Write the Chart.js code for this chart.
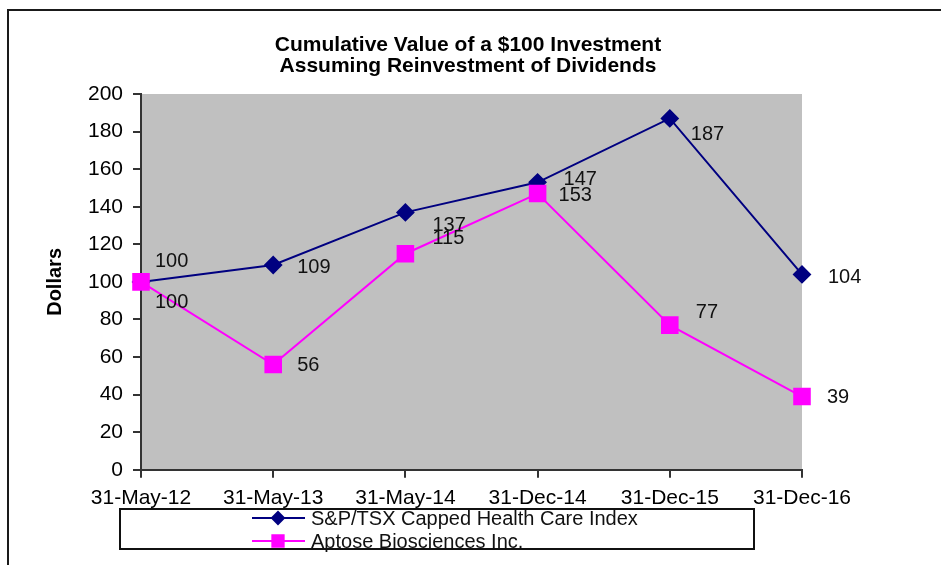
<!DOCTYPE html>
<html>
<head>
<meta charset="utf-8">
<script src="https://cdn.jsdelivr.net/npm/chart.js@4"></script>
<style>
    body { margin: 0; background: #fff; }
    #wrap { width: 941px; height: 565px; }
</style>
</head>
<body>
<div id="wrap"><canvas id="myLineChart"></canvas></div>
<script>
const dates = ['31-May-12', '31-May-13', '31-May-14', '31-Dec-14', '31-Dec-15', '31-Dec-16'];
const indexValues = [100, 109, 137, 153, 187, 104];
const aptoseValues = [100, 56, 115, 147, 77, 39];
// the printed labels, as they stand on the original (the Dec-14 pair is swapped there)
const indexLabels = ['100', '109', '137', '147', '187', '104'];
const aptoseLabels = ['100', '56', '115', '153', '77', '39'];
const yTicks = [0, 20, 40, 60, 80, 100, 120, 140, 160, 180, 200];
const titleLines = ['Cumulative Value of a $100 Investment', 'Assuming Reinvestment of Dividends'];

// where each value label sits relative to its point
const indexLabelOffsets = [[14, -20], [24, 2], [27, 13], [26, -3], [21, 16], [26, 3]];
const aptoseLabelOffsets = [[14, 21], [24, 1], [27, -15], [21, 2], [26, -13], [25, 1]];

const FONT = 'Liberation Sans, Arial, sans-serif';

const backgroundPlugin = {
    id: 'plot_background',
    beforeDraw: (chart) => {
        const ctx = chart.ctx;
        const {top, left, width, height} = chart.chartArea;
        ctx.save();
        ctx.fillStyle = '#fff';
        ctx.fillRect(0, 0, chart.width, chart.height);
        ctx.fillStyle = '#c0c0c0';
        ctx.fillRect(left, top, width, height);
        // frame round the whole picture
        ctx.strokeStyle = '#1a1a1a';
        ctx.lineWidth = 2;
        ctx.beginPath();
        ctx.moveTo(chart.width, 10);
        ctx.lineTo(8, 10);
        ctx.lineTo(8, chart.height);
        ctx.stroke();
        // title, centred on the whole picture
        ctx.fillStyle = '#000';
        ctx.font = 'bold 21px ' + FONT;
        ctx.textAlign = 'center';
        ctx.textBaseline = 'middle';
        titleLines.forEach((t, i) => ctx.fillText(t, 468, 45 + i * 21));
        ctx.restore();
    }
};

const valueLabelPlugin = {
    id: 'value_labels',
    afterDatasetsDraw: (chart) => {
        const ctx = chart.ctx;
        const sets = [[indexLabels, indexLabelOffsets], [aptoseLabels, aptoseLabelOffsets]];
        ctx.save();
        ctx.font = '20px ' + FONT;
        ctx.fillStyle = '#111';
        ctx.textAlign = 'left';
        ctx.textBaseline = 'middle';
        sets.forEach(([texts, offsets], i) => {
            chart.getDatasetMeta(i).data.forEach((pt, j) => {
                ctx.fillText(texts[j], pt.x + offsets[j][0], pt.y + offsets[j][1]);
            });
        });
        ctx.restore();
    }
};

const boxLegendPlugin = {
    id: 'box_legend',
    afterDraw: (chart) => {
        const ctx = chart.ctx;
        ctx.save();
        ctx.strokeStyle = '#111';
        ctx.lineWidth = 2;
        ctx.strokeRect(120, 509, 634, 40);
        chart.data.datasets.forEach((ds, i) => {
            const y = 518 + i * 23;
            ctx.strokeStyle = ds.borderColor;
            ctx.fillStyle = ds.backgroundColor;
            ctx.lineWidth = 2;
            ctx.beginPath();
            ctx.moveTo(252, y);
            ctx.lineTo(305, y);
            ctx.stroke();
            Chart.helpers.drawPoint(ctx, {
                pointStyle: ds.pointStyle,
                radius: ds.legendRadius,
                rotation: 0,
                borderWidth: 1
            }, 278, y);
            ctx.fillStyle = '#111';
            ctx.font = '20px ' + FONT;
            ctx.textAlign = 'left';
            ctx.textBaseline = 'middle';
            ctx.fillText(ds.label, 311, y + 1);
        });
        ctx.restore();
    }
};

const line = document.getElementById('myLineChart');
const myLine = new Chart(line, {
    type: 'line',
    data: {
        labels: dates,
        datasets: [{
            label: 'S&P/TSX Capped Health Care Index',
            data: indexValues,
            borderColor: '#000080',
            backgroundColor: '#000080',
            borderWidth: 2,
            pointStyle: 'rectRot',
            pointRadius: 8,
            legendRadius: 6,
            tension: 0,
            order: 1,
        },
        {
            label: 'Aptose Biosciences Inc.',
            data: aptoseValues,
            borderColor: '#ff00ff',
            backgroundColor: '#ff00ff',
            borderWidth: 2,
            pointStyle: 'rect',
            pointRadius: 11,
            legendRadius: 8,
            tension: 0,
            order: 0,
        }]
    },
    options: {
        responsive: true,
        maintainAspectRatio: false,
        animation: false,
        events: [],
        layout: {
            padding: {top: 94, left: 0, right: 139, bottom: 46}
        },
        plugins: {
            legend: false,
            tooltip: {enabled: false},
            title: false
        },
        scales: {
            x: {
                offset: false,
                border: {color: '#333', width: 2},
                grid: {
                    offset: false,
                    drawOnChartArea: false,
                    color: '#333',
                    lineWidth: 2,
                    tickLength: 8
                },
                ticks: {
                    color: '#000',
                    padding: 8,
                    maxRotation: 0,
                    autoSkip: false,
                    font: {family: FONT, size: 21}
                },
                afterFit: (scale) => {
                    scale.paddingLeft = 0;
                    scale.paddingRight = 0;
                }
            },
            y: {
                min: yTicks[0],
                max: yTicks[yTicks.length - 1],
                border: {color: '#333', width: 2},
                grid: {
                    drawOnChartArea: false,
                    color: '#333',
                    lineWidth: 2,
                    tickLength: 8
                },
                ticks: {
                    stepSize: yTicks[1] - yTicks[0],
                    color: '#000',
                    padding: 10,
                    font: {family: FONT, size: 21}
                },
                title: {
                    display: true,
                    text: 'Dollars',
                    color: '#000',
                    font: {family: FONT, size: 20, weight: 'bold'},
                    padding: {top: 43, bottom: 0}
                },
                afterFit: (scale) => {
                    scale.width = 141;
                    scale.paddingTop = 0;
                    scale.paddingBottom = 0;
                }
            }
        }
    },
    plugins: [backgroundPlugin, valueLabelPlugin, boxLegendPlugin],
});
</script>
</body>
</html>
